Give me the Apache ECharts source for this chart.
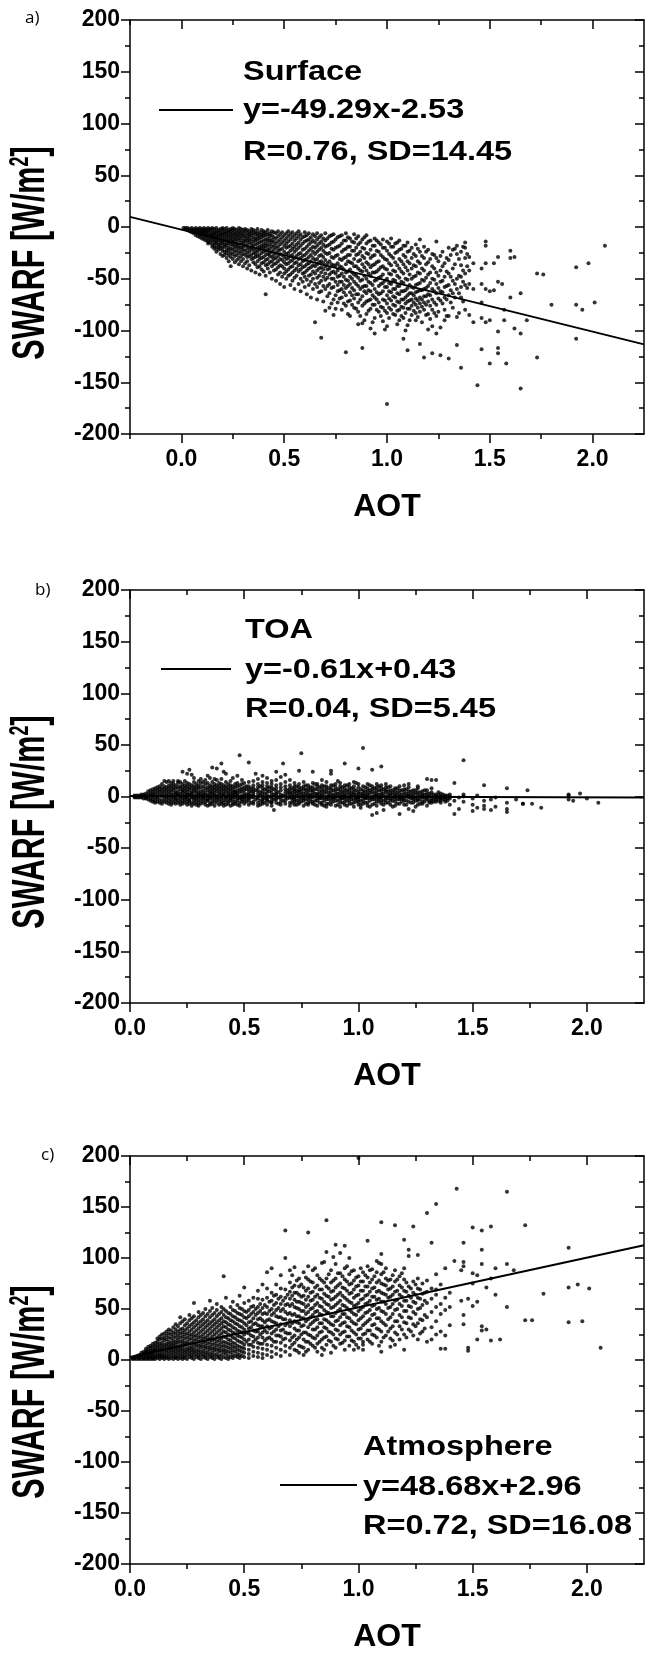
<!DOCTYPE html>
<html><head><meta charset="utf-8">
<script src="https://cdn.jsdelivr.net/npm/echarts@6/dist/echarts.min.js"></script>
<style>html,body{margin:0;padding:0;background:#fff}#c{width:647px;height:1654px}</style>
</head><body><div id="c"></div>
<script>
// ---------------- data ----------------
const panelLabels = ['a)', 'b)', 'c)'];
const panelTitles = ['Surface', 'TOA', 'Atmosphere'];
const fitEquations = ['y=-49.29x-2.53', 'y=-0.61x+0.43', 'y=48.68x+2.96'];
const fitStats = ['R=0.76, SD=14.45', 'R=0.04, SD=5.45', 'R=0.72, SD=16.08'];
const xAxisTitle = 'AOT';
const yTickValues = [-200, -150, -100, -50, 0, 50, 100, 150, 200];
const yMinorValues = [-175, -125, -75, -25, 25, 75, 125, 175];
const xTickValues = [0, 0.5, 1, 1.5, 2];
const xMinorA = [-0.25, 0.25, 0.75, 1.25, 1.75];
const xMinorBC = [0.25, 0.75, 1.25, 1.75];
const xRangeA = [-0.25, 2.25];
const xRangeBC = [0, 2.25];
const yRange = [-200, 200];
// regression lines (end points)
const fitSurface = [[-0.25, 9.8], [2.25, -113.4]];
const fitTOA = [[0, 0.4], [2.25, -0.9]];
const fitAtmosphere = [[0, 3.0], [2.25, 112.5]];
// scatter points: each row = [AOT, SWARF, SWARF, ...]
const surfaceRows = [
[.01,-1],[.02,-2,-1],[.03,-3,-1],[.04,-2,-4],[.05,-1,-3,-5],[.06,-2,-4,-6],[.07,-1,-3,-5,-8],[.08,-2,-4,-6,-9],[.09,-1,-3,-5,-7,-10],[.10,-2,-4,-6,-8,-11],
[.11,-1,-3,-5,-7,-9,-12],[.12,-2,-4,-6,-8,-10,-13],[.13,-1,-3,-5,-8,-11,-14,-16],[.14,-2,-4,-7,-9,-12,-15],[.15,-1,-3,-6,-8,-10,-13,-17,-19],
[.16,-2,-5,-7,-10,-12,-15,-18,-21],[.17,-1,-4,-6,-9,-11,-14,-16,-20,-24],[.18,-3,-5,-8,-10,-13,-17,-19,-22],[.19,-2,-4,-7,-9,-12,-15,-18,-21,-26],[.20,-1,-3,-6,-8,-11,-14,-16,-20,-23,-28],
[.21,-2,-5,-7,-10,-13,-17,-19,-24,-27],[.22,-1,-4,-6,-9,-12,-15,-18,-22,-25,-30],[.23,-3,-5,-8,-11,-14,-16,-20,-23,-27,-33],[.24,-2,-4,-7,-10,-13,-17,-21,-25,-29,-38],[.25,-1,-3,-6,-9,-12,-15,-18,-22,-26,-31],
[.26,-2,-5,-8,-11,-14,-17,-20,-24,-28,-34],[.27,-3,-6,-9,-12,-16,-19,-23,-27,-32],[.28,-1,-4,-7,-10,-13,-18,-21,-25,-30,-36],[.29,-2,-5,-8,-11,-15,-20,-24,-28,-33],[.30,-3,-6,-9,-13,-16,-19,-22,-26,-31,-38],
[.31,-2,-4,-8,-11,-14,-18,-23,-27,-35],[.32,-3,-6,-10,-13,-17,-21,-25,-29,-33,-40],[.33,-4,-7,-9,-12,-15,-20,-24,-28,-37],[.34,-2,-5,-8,-12,-16,-19,-22,-27,-31,-42],[.35,-3,-6,-10,-14,-18,-21,-25,-30,-34],
[.36,-4,-7,-11,-13,-17,-23,-26,-29,-36,-44],[.37,-2,-6,-9,-12,-16,-20,-24,-28,-33,-39],[.38,-5,-8,-11,-15,-19,-22,-27,-31,-38,-46],[.39,-3,-7,-10,-14,-18,-21,-25,-30,-35,-41],[.40,-4,-6,-9,-13,-17,-20,-24,-29,-34,-43],
[.41,-5,-8,-12,-16,-19,-23,-27,-32,-37,-47,-65],[.42,-3,-7,-11,-14,-18,-22,-26,-31,-36,-40],[.43,-6,-9,-13,-17,-21,-25,-28,-34,-44],[.44,-4,-8,-12,-15,-19,-24,-29,-33,-38,-50],[.45,-5,-10,-14,-18,-22,-27,-31,-36,-42],
[.46,-6,-11,-16,-20,-25,-30,-35,-41,-52],[.47,-4,-9,-14,-19,-23,-28,-33,-39,-46],[.48,-7,-12,-17,-22,-26,-31,-37,-44,-55],[.49,-5,-10,-15,-21,-27,-32,-38,-48],[.50,-8,-13,-18,-24,-29,-34,-40,-45,-58],
[.51,-6,-11,-16,-20,-26,-31,-36,-43,-50],[.52,-4,-9,-14,-19,-25,-30,-35,-41,-47],[.53,-7,-12,-18,-23,-28,-33,-39,-46,-56],[.54,-5,-10,-16,-21,-27,-32,-38,-44,-52],[.55,-8,-13,-19,-24,-30,-35,-42,-49,-60],
[.56,-6,-11,-17,-22,-28,-34,-40,-47],[.57,-4,-9,-15,-20,-26,-31,-37,-43,-55],[.58,-7,-12,-18,-25,-30,-36,-41,-50,-62],[.59,-10,-16,-22,-28,-33,-39,-45,-53],[.60,-5,-9,-14,-21,-27,-32,-38,-44,-48,-58],
[.61,-8,-13,-19,-25,-31,-36,-42,-51,-65],[.62,-6,-12,-17,-23,-29,-35,-40,-47,-56],[.63,-10,-15,-21,-27,-33,-39,-46,-53,-68],[.64,-7,-13,-19,-24,-30,-37,-43,-50,-60],[.65,-9,-15,-20,-26,-32,-38,-45,-55,-92],
[.66,-6,-12,-18,-24,-31,-36,-42,-49,-58,-70],[.67,-10,-16,-22,-28,-34,-40,-47,-54,-63],[.68,-8,-14,-20,-27,-33,-39,-44,-52,-62,-107],[.69,-11,-17,-23,-29,-35,-41,-48,-57,-72],[.70,-6,-13,-19,-25,-32,-38,-45,-51,-60,-81],
[.71,-11,-18,-26,-35,-41,-49,-57,-67],[.72,-9,-17,-25,-33,-40,-46,-55,-64,-78],[.73,-8,-15,-21,-29,-36,-44,-50,-59,-74],[.74,-7,-14,-22,-30,-37,-43,-50,-58,-70,-85],[.75,-12,-20,-28,-37,-45,-53,-66,-79],
[.76,-10,-19,-27,-35,-42,-48,-56,-62,-73],[.77,-9,-18,-31,-38,-47,-53,-61,-69],[.78,-8,-16,-24,-32,-39,-45,-53,-60,-68,-80],[.79,-13,-22,-30,-41,-48,-56,-63,-74],[.80,-6,-13,-21,-29,-36,-44,-51,-59,-66,-76,-121],
[.81,-10,-19,-27,-33,-43,-52,-57,-72,-84],[.82,-11,-19,-27,-34,-41,-48,-55,-63,-71,-86],[.83,-14,-23,-35,-44,-50,-59,-66,-75],[.84,-7,-15,-23,-31,-38,-46,-53,-61,-69,-78],[.85,-11,-20,-27,-38,-47,-55,-65,-79],
[.86,-9,-17,-26,-33,-40,-49,-57,-65,-73,-82,-94],[.87,-15,-24,-32,-42,-52,-60,-70,-86],[.88,-12,-20,-28,-36,-43,-51,-58,-67,-76,-93,-117],[.89,-10,-21,-30,-39,-47,-57,-62,-74,-90],
[.90,-8,-16,-25,-34,-42,-50,-57,-64,-72,-84],[.91,-14,-26,-36,-45,-53,-61,-71,-81],[.92,-13,-22,-30,-39,-47,-54,-62,-70,-79,-98],[.93,-18,-28,-37,-44,-56,-66,-75,-92],[.94,-11,-18,-27,-36,-44,-52,-60,-68,-75,-88,-103],
[.95,-13,-23,-34,-43,-51,-63,-70,-80],[.96,-15,-24,-33,-41,-49,-57,-65,-73,-82],[.97,-17,-27,-39,-48,-55,-64,-77,-86],[.98,-12,-20,-29,-38,-46,-54,-62,-70,-78,-91],[.99,-20,-31,-40,-52,-58,-71,-81,-99],
[1.00,-14,-23,-32,-41,-50,-58,-66,-74,-83,-96,-171],[1.01,-16,-26,-35,-45,-54,-62,-69,-78,-88],[1.02,-11,-19,-28,-37,-46,-55,-63,-71,-80],[1.03,-19,-30,-42,-51,-60,-67,-75,-84],
[1.04,-16,-25,-34,-43,-52,-60,-68,-76,-85],[1.05,-15,-24,-37,-47,-57,-64,-72,-81,-94],[1.06,-13,-22,-31,-40,-49,-57,-65,-73,-80,-90],[1.07,-21,-33,-43,-53,-62,-70,-77,-86],
[1.08,-18,-27,-36,-45,-54,-62,-70,-78,-88,-108],[1.09,-18,-29,-39,-50,-61,-68,-74,-83,-100],[1.10,-15,-24,-33,-42,-51,-59,-66,-72,-79,-95,-119],[1.11,-23,-35,-46,-56,-64,-71,-79,-90],
[1.12,-20,-30,-40,-50,-58,-64,-70,-76,-85],[1.13,-26,-37,-48,-59,-66,-73,-81],[1.14,-17,-28,-38,-47,-56,-63,-69,-75,-83,-90],[1.15,-21,-33,-44,-55,-62,-71,-78,-87],
[1.16,-12,-24,-35,-45,-54,-61,-68,-74,-82,-113],[1.17,-28,-40,-51,-61,-70,-77,-92],[1.18,-19,-30,-42,-52,-60,-67,-73,-80,-126],[1.19,-24,-36,-49,-59,-67,-75,-85],
[1.20,-22,-34,-46,-57,-65,-72,-84,-99],[1.21,-31,-44,-54,-66,-76,-89],[1.22,-26,-38,-50,-60,-70,-80,-96,-122],[1.23,-27,-40,-51,-62,-73,-83],[1.24,-14,-30,-44,-55,-64,-75,-86,-103],
[1.25,-33,-47,-59,-69,-82],[1.26,-28,-42,-53,-62,-71,-97,-124],[1.27,-24,-38,-52,-63,-74],[1.28,-35,-48,-58,-68,-80,-90],[1.29,-30,-43,-57,-70,-86],
[1.30,-20,-32,-45,-56,-66,-86,-127],[1.31,-27,-48,-61,-73],[1.32,-22,-40,-52,-64,-78],[1.33,-21,-36,-55,-68],[1.34,-18,-26,-50,-60,-87,-114],[1.35,-31,-47,-64,-83],
[1.36,-24,-37,-48,-58,-68,-136],[1.37,-19,-42,-53,-72],[1.38,-15,-20,-30,-45,-56,-80],[1.39,-26,-38,-59],
[1.40,-29,-42,-55,-85],[1.42,-35,-60,-92],[1.44,-153],[1.46,-40,-55,-73,-88,-118],[1.48,-14,-18,-35,-60,-92],[1.50,-62,-90,-132],[1.52,-35,-61],[1.54,-29,-53,-101,-117,-122],
[1.56,-55],[1.57,-80,-90],[1.58,-132],[1.60,-23,-30,-68],[1.62,-29,-98],[1.65,-64,-103,-156],[1.68,-90],[1.73,-45,-126],[1.76,-46],[1.80,-75],
[1.92,-39,-75,-108],[1.95,-80],[1.98,-35],[2.01,-73],[2.06,-18]
];
const toaRows = [
[.02,0,1,-1],[.03,0,-1,1],[.04,1,-1,0],[.05,0,2,-1],[.06,1,-2,2],[.07,-1,3,0,-2],[.08,2,-3,5,0],[.09,-2,3,-4,1,6],[.10,0,4,-3,7,-5,2],
[.11,-1,5,-4,8,2,-6],[.12,3,-2,6,-5,9,0],[.13,-3,1,7,-6,4,10],[.14,2,-4,5,-7,8,0,12],[.15,-2,4,-5,7,1,10,15],[.16,3,-3,6,-6,9,0,14],
[.17,-1,5,-7,2,8,-4,11,15],[.18,1,-5,4,-2,7,10,-8,13],[.19,-3,2,6,-6,9,0,12,15],[.20,0,4,-4,8,-7,3,11,-2],[.21,2,-6,5,-3,9,1,13,15],
[.22,-2,3,-5,7,-8,10,0,14],[.23,1,-4,6,-1,9,-7,4,12,24],[.24,-3,2,5,-6,8,-1,11,15],[.25,0,-5,4,7,-8,2,10,-2,13,22],[.26,2,-3,6,-7,1,9,-4,12,26],
[.27,-1,4,-6,3,8,-9,11,0,21],[.28,1,-4,5,-2,7,-7,10,14,18],[.29,-2,3,-5,6,0,9,-8,12],[.30,0,-3,4,-6,8,2,11,-9,15],[.31,2,-4,5,-1,9,-7,13,17],
[.32,-1,3,-6,6,1,10,-3,14],[.33,1,-5,4,-2,8,-8,12,16],[.34,-3,2,6,-4,0,9,-9,13,20],[.35,0,-2,5,-6,3,8,11,-8,18],[.36,2,-4,7,-1,10,-7,4,14,28],
[.37,-2,3,-5,6,1,9,-9,12,17],[.38,1,-3,5,-6,8,-1,11,16,27],[.39,-1,4,-4,7,2,-8,10,13],[.40,0,-5,3,6,-2,9,-7,12,17,32],[.41,2,-3,5,-6,8,1,-9,11,24],
[.42,-1,4,-4,7,-8,10,0,14,22],[.43,1,-5,3,6,-2,9,-7,12],[.44,-2,2,-4,5,8,-9,11,0,15],[.45,0,-3,4,-6,7,2,10,-8,18],[.46,2,-5,5,-1,9,-7,12,4],
[.47,-2,3,-4,6,1,-8,10,13,20],[.48,0,-6,4,-2,7,-9,11,40],[.49,1,-3,5,-5,8,-1,12,16],[.50,-1,3,-7,6,0,9,-4,13],[.51,2,-5,7,-2,10],
[.52,0,-4,4,7,-8,2,10,-2,14,33],[.53,-1,5,-6,8,1],[.54,1,-5,5,-1,8,-7,11,3,15],[.55,22,-3,6],[.56,-2,3,-6,6,0,9,-9,12,17],[.57,1,-4,4,-8,10],
[.58,2,-3,5,-7,8,-1,11,-5,14,20],[.59,-2,3,7,-6],[.60,-1,4,-4,7,1,-8,10,-3,13,18],[.61,0,5,-5,9],[.62,0,-5,3,6,-2,9,-9,12,-6,15],[.63,-13,2,-3,7],
[.64,1,-3,5,-6,8,-1,11,3,16,24],[.65,-1,4,-7],[.66,-2,2,-5,6,0,-8,9,12,19],[.67,32,1,-4],[.68,1,-4,4,-7,7,-1,10,14,21],[.69,-2,3,6],
[.70,-1,3,-6,5,0,-9,8,11,16],[.71,-3,1,4,-6,8,-1],[.72,2,-3,5,-5,7,-1,10,-8,13],[.73,0,-4,3,6,-8,10],[.74,-2,4,-5,6,1,-7,9,12,25],[.75,42,-2,2,5,-5,8],
[.76,0,-4,3,-9,7,-2,10,14],[.77,1,-3,4,-7,7,11],[.78,2,-3,5,-6,8,0,11,-8],[.79,-2,2,-5,6,0,9],[.80,-1,4,-5,6,1,-7,9,13,24],[.81,0,-4,3,-8,7,12],
[.82,1,-4,3,7,-2,10,-9,12],[.83,2,-2,5,-6,9,-1],[.84,-2,2,-6,5,0,-8,8,11,16],[.85,-1,3,-4,6,-9,10],[.86,0,-3,4,-7,7,-1,10,-10,14],[.87,1,-3,4,-7,8,0],
[.88,2,-5,5,-2,8,-8,11,22,25],[.89,-2,2,-5,6,-1,11],[.90,-1,3,-4,6,0,-9,9,12],[.91,0,-4,3,-8,7,15],[.92,1,-3,4,-6,7,-1,10,-10,13],[.93,2,-2,5,-6,9,-1],
[.94,-2,2,-5,5,0,-8,8,11,32],[.95,-1,3,-4,6,-9,11],[.96,0,-4,3,-7,6,-1,9,12],[.97,1,-3,4,-7,8,0],[.98,2,-3,4,-6,7,-10,10,14],[.99,-2,2,-5,6,-1,13],
[1.00,-1,3,-5,5,0,-8,9,-3,12,27],[1.01,0,-4,3,-8,7,-11],[1.02,1,-4,3,-7,6,-1,10,47],[1.03,2,-2,5,-6,9,-1],[1.04,-2,2,-6,5,-9,8,0,12],[1.05,-1,3,-4,6,-10,11],
[1.06,0,-3,4,-8,7,-1,10,26,-18],[1.07,1,-3,4,-7,8,0],[1.08,1,-5,3,-2,6,-9,9,12,-16],[1.09,-2,2,-5,6,-1,10],[1.10,-1,2,-4,5,-7,0,8,11,29],[1.11,0,-4,3,-8,7,-13],
[1.12,0,-3,4,-6,6,-1,9,12],[1.13,2,-2,5,-6,9],[1.14,1,-4,3,-8,-2,6,10],[1.15,-1,3,-4,6,-10],[1.16,-2,2,-5,5,-9,0,8],[1.17,1,-3,4,-7,8],
[1.18,0,-3,3,-7,6,-1,10,-17],[1.19,-2,2,-5,6,-1],[1.20,1,-4,4,-2,7,-8,11],[1.21,0,-4,3,-8,7],[1.22,-1,2,-5,5,0,-12,9,12],[1.23,2,-2,5,-6],
[1.24,0,-3,3,-6,6,-1,-14],[1.25,-1,3,-4,6,-10],[1.26,1,-4,4,-2,8,-8,10],[1.27,1,-3,4,-7],[1.28,-1,2,-5,5,0,-7],[1.29,-2,2,-5,6],
[1.30,0,-3,3,-1,6,-9,17],[1.31,0,-4,3,-6],[1.32,1,-4,-2,4,-6,8,16],[1.33,2,-2,-5],[1.34,-1,2,-5,0,-3,16],[1.35,-1,1,-4,4],[1.36,0,-2,-4,3,-1,-6],
[1.37,0,-3,2],[1.38,-1,1,-3,-5,0],[1.39,-2,1,-4],
[1.40,-2,0,-8,2],[1.42,13,-4,-17],[1.44,-1,-12],[1.46,35,2,0,-5],[1.50,-2,-8,-14],[1.52,1,-11],[1.55,11,-4,-9,-12],[1.58,-3,-13],[1.60,-1,-10],
[1.65,8,-6,-15,-12],[1.69,-3],[1.72,-7,-7],[1.74,6],[1.76,-7],[1.80,-11],[1.92,2,-3,1],[1.94,-4],[1.97,3],[2.00,-2],[2.05,-6]
];
const atmosphereRows = [
[.01,1,2],[.02,1,2,3],[.03,1,3,4],[.04,2,3,5,1],[.05,1,3,5,7],[.06,2,4,6,8,1],[.07,1,3,5,7,9,11],[.08,2,4,6,8,10,13,1],[.09,1,3,5,7,9,12,14],[.10,2,4,6,8,10,13,16,1],
[.11,1,3,5,8,11,14,17,9],[.12,2,4,6,9,12,15,18,21],[.13,1,3,5,7,10,13,16,20,23],[.14,2,4,6,9,11,14,17,21,25],[.15,1,3,5,8,12,15,19,22,26],
[.16,2,4,7,10,13,16,20,24,28],[.17,1,3,6,9,12,15,18,22,26,30],[.18,2,5,8,11,14,17,21,25,29],[.19,1,4,7,10,13,16,19,23,27,32],[.20,2,3,6,9,12,15,18,22,26,30,35],
[.21,1,4,7,10,13,17,20,24,28,33],[.22,2,5,8,11,14,18,22,26,30,36,42],[.23,1,3,6,9,12,16,19,23,27,31,38],[.24,2,4,7,10,14,17,21,25,29,34,40],[.25,1,5,8,11,15,18,22,26,31,36],
[.26,3,6,9,12,16,20,24,28,33,39,44],[.27,2,4,7,10,13,17,21,25,30,35,41],[.28,1,5,8,11,15,19,23,27,32,37,43,56],[.29,3,6,9,13,16,20,24,29,34,39],[.30,2,4,7,10,14,18,22,26,31,36,42,47],
[.31,1,5,8,12,15,19,23,28,33,38,44],[.32,3,6,9,13,17,21,25,30,35,40,46],[.33,2,4,7,11,14,18,22,27,32,37,43,50],[.34,1,5,8,12,16,20,24,29,34,39,45],[.35,3,6,10,13,17,21,26,31,36,42,48,58],
[.36,2,4,7,11,15,19,23,28,33,38,44,51],[.37,1,5,9,12,16,20,25,30,35,40,46],[.38,3,6,10,14,18,22,27,32,37,43,49,55],[.39,2,4,8,11,15,19,24,29,34,39,45],[.40,1,5,9,13,17,21,26,31,36,41,47,52],
[.41,3,7,10,14,18,23,28,33,38,44,50,82],[.42,2,6,9,13,17,22,27,32,37,42,48,61],[.43,1,4,8,12,16,20,25,30,35,41,46],[.44,3,7,11,15,19,24,29,34,39,45,52],[.45,2,5,9,13,17,22,27,32,38,43,49,57],
[.46,4,8,12,16,21,26,31,36,42,48],[.47,3,6,10,14,19,24,29,35,40,46,54],[.48,2,5,9,13,18,23,28,33,39,45,51,63],[.49,4,8,12,17,22,27,32,38,44,50],[.50,3,7,11,15,20,25,30,36,42,48,56,71],
[.51,18,27,34,41,47],[.52,2,6,10,15,20,26,31,37,43,49,58],[.53,15,24,32,38,45,52],[.54,4,8,13,18,23,29,35,41,47,53,61],[.55,20,28,36,44,50],
[.56,3,7,12,17,22,28,34,40,46,52,60,68],[.57,16,25,33,41,48,55],[.58,2,6,11,16,22,27,33,39,45,51,59,74],[.59,19,29,37,46,54],[.60,5,10,15,21,27,33,39,45,52,61,70,86],
[.61,22,31,40,48,57],[.62,3,8,14,20,26,32,38,44,50,58,66,90],[.63,18,28,37,46,54,63],[.64,6,12,18,24,30,36,43,49,56,64,74],[.65,24,33,42,51,60],
[.66,4,10,17,23,29,35,42,48,55,62,70,83],[.67,20,30,40,50,58],[.68,8,14,21,27,34,40,47,54,61,69,100,127],[.69,26,36,45,55,64],[.70,5,12,19,26,33,39,46,53,60,67,76,88],
[.71,15,22,36,44,55,63,71,83],[.72,10,17,24,31,38,45,52,59,66,73,91],[.73,9,20,29,37,43,51,57,66,78],[.74,7,14,22,29,36,43,50,57,64,72,80],[.75,13,25,33,41,48,56,62,74],
[.76,5,12,20,27,34,41,48,55,63,71,86],[.77,8,18,27,38,45,52,59,68,81],[.78,10,18,25,32,40,47,54,62,70,79,92,125],[.79,16,24,35,42,50,58,66,77],[.80,14,22,30,37,44,51,59,67,76,88],
[.81,12,21,30,39,47,54,62,71,90],[.82,8,16,24,32,40,48,56,64,73,83],[.83,18,27,36,45,53,61,69,80],[.84,5,12,20,28,36,44,52,60,69,78,95],[.85,10,22,32,40,49,57,65,76,96],
[.86,15,23,31,39,47,55,63,72,80,106,137],[.87,19,28,37,46,54,62,70,84],[.88,7,18,27,35,43,51,59,67,76,88],[.89,14,25,34,43,52,60,68,78,101],
[.90,12,21,30,38,46,54,62,71,80,94,113],[.91,20,29,39,48,56,64,73,85],[.92,16,25,34,42,50,58,66,75,85,105],[.93,17,27,36,45,54,63,71,82],[.94,10,19,28,37,45,53,61,70,79,90,112],
[.95,23,33,42,51,59,68,77,92],[.96,14,23,32,41,49,57,65,74,84,100],[.97,19,29,38,47,56,66,75,87],[.98,10,18,27,36,45,53,61,69,78,88],[.99,15,25,35,44,54,63,72,81],
[1.00,12,21,30,39,48,56,64,73,82,198],[1.01,21,31,41,50,59,68,77,90],[1.02,15,25,34,43,52,60,68,77,86,10,18],[1.03,26,36,46,55,63,72,83],
[1.04,20,29,38,47,56,64,72,81,92,117],[1.05,18,29,40,49,58,67,76,88],[1.06,16,25,34,44,53,62,70,79,89],[1.07,24,35,45,54,62,71,82],[1.08,22,31,41,50,59,67,76,86,97],
[1.09,14,30,41,51,60,68,78,95],[1.10,8,18,28,38,48,57,66,75,84,94,104,135],[1.11,22,36,47,57,65,74,86],[1.12,24,34,45,55,64,73,80,90],[1.13,28,40,51,61,69,78],
[1.14,13,21,31,42,52,62,70,79],[1.15,19,33,45,55,64,72,83],[1.16,15,27,38,49,58,67,77,88,132],[1.17,25,38,50,59,68,79],[1.18,20,33,44,55,64,73,82],[1.19,30,42,53,62,71,85],
[1.20,10,25,37,48,58,68,79,90,118],[1.21,22,36,48,58,67,76],[1.22,30,42,53,63,72,102,108],[1.23,28,41,52,61,70],[1.24,24,35,47,57,66,77,131],[1.25,33,45,56,64,74],
[1.26,20,36,50,61,70,80,103],[1.27,26,40,51,60,69],[1.28,28,39,54,65,75],[1.29,31,44,58,66],[1.30,18,42,56,67,78,144],
[1.32,20,32,47,60,70,115],[1.34,25,38,52,64,69,84,153],[1.36,11,28,45,55,74],[1.38,11,24,49,61,90],[1.40,34,52,66],[1.42,97],[1.43,168],
[1.45,58,88],[1.46,35,44,92,96,115],[1.48,12,9,60],[1.50,53,75,85,130],[1.52,20,57,83],[1.54,29,33,94,108,127],[1.56,30,71],[1.58,19,80,131],
[1.60,64,90],[1.62,20],[1.65,52,94,165],[1.68,88],[1.73,39,132],[1.76,39],[1.81,65],[1.92,37,71,110],[1.96,74],[1.98,38],[2.01,70],[2.06,12]
];

// ---------------- chart ----------------
const FONT = '"Liberation Sans", Arial, Helvetica, sans-serif';
function rowsToPoints(rows) {
  const out = [];
  rows.forEach(r => { for (let i = 1; i < r.length; i++) out.push([r[0], r[i]]); });
  return out;
}
const grids = [
  { left: 130, top: 20, width: 514, height: 414 },
  { left: 130, top: 590, width: 514, height: 413 },
  { left: 130, top: 1156, width: 514, height: 413 }
];
const lineStyle = { color: '#000', width: 1.5 };
const labelStyle = { color: '#000', fontSize: 23, fontWeight: 'bold', fontFamily: FONT };

function xAxisSet(g, range, minor) {
  const base = { type: 'value', gridIndex: g, min: range[0], max: range[1], splitLine: { show: false } };
  return [
    Object.assign({}, base, {
      position: 'bottom',
      axisLine: { show: true, onZero: false, lineStyle },
      axisTick: { show: true, customValues: xTickValues, length: 9, inside: false, lineStyle },
      axisLabel: Object.assign({ show: true, customValues: xTickValues, margin: 14, formatter: v => Number(v).toFixed(1) }, labelStyle),
      name: xAxisTitle, nameLocation: 'middle', nameGap: 57,
      nameTextStyle: { color: '#000', fontSize: 32, fontWeight: 'bold', fontFamily: FONT }
    }),
    Object.assign({}, base, {
      position: 'bottom', axisLine: { show: false, onZero: false },
      axisTick: { show: true, customValues: minor, length: 5, inside: false, lineStyle },
      axisLabel: { show: false }
    }),
    Object.assign({}, base, {
      position: 'top', axisLine: { show: true, onZero: false, lineStyle },
      axisTick: { show: true, customValues: xTickValues, length: 9, inside: true, lineStyle },
      axisLabel: { show: false }
    }),
    Object.assign({}, base, {
      position: 'top', axisLine: { show: false, onZero: false },
      axisTick: { show: true, customValues: minor, length: 5, inside: true, lineStyle },
      axisLabel: { show: false }
    })
  ];
}
function yAxisSet(g) {
  const base = { type: 'value', gridIndex: g, min: yRange[0], max: yRange[1], splitLine: { show: false } };
  return [
    Object.assign({}, base, {
      position: 'left',
      axisLine: { show: true, onZero: false, lineStyle },
      axisTick: { show: true, customValues: yTickValues, length: 9, inside: false, lineStyle },
      axisLabel: Object.assign({ show: true, customValues: yTickValues, margin: 10 }, labelStyle)
    }),
    Object.assign({}, base, {
      position: 'left', axisLine: { show: false, onZero: false },
      axisTick: { show: true, customValues: yMinorValues, length: 5, inside: false, lineStyle },
      axisLabel: { show: false }
    }),
    Object.assign({}, base, {
      position: 'right', axisLine: { show: true, onZero: false, lineStyle },
      axisTick: { show: true, customValues: yTickValues, length: 9, inside: true, lineStyle },
      axisLabel: { show: false }
    }),
    Object.assign({}, base, {
      position: 'right', axisLine: { show: false, onZero: false },
      axisTick: { show: true, customValues: yMinorValues, length: 5, inside: true, lineStyle },
      axisLabel: { show: false }
    })
  ];
}

const xAxes = [].concat(xAxisSet(0, xRangeA, xMinorA), xAxisSet(1, xRangeBC, xMinorBC), xAxisSet(2, xRangeBC, xMinorBC));
const yAxes = [].concat(yAxisSet(0), yAxisSet(1), yAxisSet(2));

const allRows = [surfaceRows, toaRows, atmosphereRows];
const allFits = [fitSurface, fitTOA, fitAtmosphere];
const series = [];
allRows.forEach((rows, p) => {
  series.push({
    type: 'scatter', xAxisIndex: 4 * p, yAxisIndex: 4 * p, data: rowsToPoints(rows),
    symbol: 'circle', symbolSize: 4, itemStyle: { color: '#000' }, silent: true, z: 2
  });
  series.push({
    type: 'line', xAxisIndex: 4 * p, yAxisIndex: 4 * p, data: allFits[p],
    symbol: 'none', lineStyle: { color: '#000', width: 2 }, silent: true, z: 3
  });
});

// annotation layout (pixels)
const annot = [
  { lab: [25, 18], tx: 243, ty: [72, 110, 152], leg: [159, 233, 110], yt: [31, 253] },
  { lab: [35, 590], tx: 245, ty: [630, 670, 709], leg: [161, 231, 669], yt: [31, 822] },
  { lab: [41, 1155], tx: 363, ty: [1447, 1487, 1526], leg: [280, 357, 1485], yt: [31, 1392] }
];
const graphic = [];
annot.forEach((a, p) => {
  graphic.push({ type: 'text', x: a.lab[0], y: a.lab[1], silent: true,
    style: { text: panelLabels[p], font: '17px "Open Sans", sans-serif', fill: '#000', textAlign: 'left', textVerticalAlign: 'middle', align: 'left', verticalAlign: 'middle' } });
  [panelTitles[p], fitEquations[p], fitStats[p]].forEach((t, i) => {
    graphic.push({ type: 'text', x: a.tx, y: a.ty[i], scaleX: 1.16, silent: true,
      style: { text: t, font: 'bold 28px ' + FONT, fill: '#000', textAlign: 'left', textVerticalAlign: 'middle', align: 'left', verticalAlign: 'middle' } });
  });
  graphic.push({ type: 'line', silent: true, shape: { x1: a.leg[0], y1: a.leg[2], x2: a.leg[1], y2: a.leg[2] },
    style: { stroke: '#000', lineWidth: 1.8 } });
  graphic.push({ type: 'text', x: a.yt[0], y: a.yt[1], rotation: Math.PI / 2, scaleY: 1.5, silent: true,
    style: { text: '{t|SWARF [W/m}{s|2}{t|]}', fill: '#000', textAlign: 'center', textVerticalAlign: 'middle', align: 'center', verticalAlign: 'middle',
      rich: { t: { font: 'bold 30.5px ' + FONT, fill: '#000', lineHeight: 32 }, s: { font: 'bold 18px ' + FONT, fill: '#000', lineHeight: 16, verticalAlign: 'top' } } } });
});

const chart = echarts.init(document.getElementById('c'), null, { renderer: 'canvas' });
chart.setOption({
  animation: false,
  backgroundColor: '#fff',
  grid: grids,
  xAxis: xAxes,
  yAxis: yAxes,
  series: series,
  graphic: graphic
});
</script>
</body></html>
